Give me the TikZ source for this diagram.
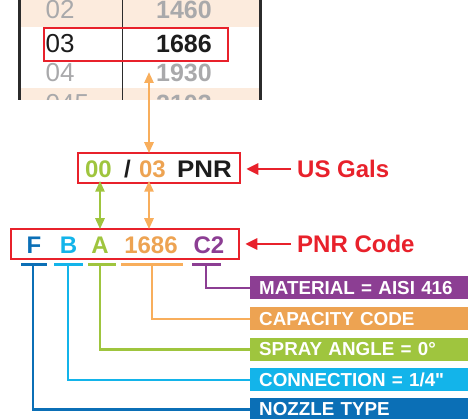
\documentclass[tikz,border=0pt]{standalone}
\usepackage{fontspec}
\defaultfontfeatures{}
\defaultfontfeatures[\rmfamily]{}
\setmainfont{Liberation Sans}
\newfontfamily\qfont{Liberation Sans}
\usetikzlibrary{arrows.meta}
\definecolor{pred}{HTML}{E8212B}
\definecolor{tbeige}{HTML}{FCEBDD}
\definecolor{tline}{HTML}{2B2B2B}
\definecolor{tgray}{HTML}{A9A9AB}
\definecolor{tblack}{HTML}{1C1C1C}
\definecolor{cblue}{HTML}{0B6FB6}
\definecolor{ccyan}{HTML}{13B4EA}
\definecolor{cgreen}{HTML}{9FC53E}
\definecolor{corange}{HTML}{EDA352}
\definecolor{corlight}{HTML}{F8AE5C}
\definecolor{cpurple}{HTML}{8C3E93}
\begin{document}
\begin{tikzpicture}[x=1pt,y=-1pt,
  rowl/.style={font=\fontsize{26}{30}\selectfont, inner sep=0pt, anchor=west},
  rowr/.style={font=\fontsize{25}{30}\selectfont\bfseries, inner sep=0pt, anchor=east},
  big/.style={font=\fontsize{24}{28}\selectfont\bfseries, inner sep=0pt},
  redbox/.style={draw=pred, line width=2.5pt, inner sep=0pt},
  redarrow/.style={draw=pred, line width=2.8pt, -{Triangle[length=12pt,width=11pt]}},
  dblarrow/.style={line width=2.6pt, {Triangle[length=11pt,width=9pt]}-{Triangle[length=11pt,width=9pt]}},
  bar/.style={line width=3pt},
  stem/.style={line width=2.5pt},
  lbl/.style={anchor=west, text=white, font=\fontsize{18.8}{22}\selectfont\bfseries,
    minimum height=23pt, inner ysep=0pt, inner xsep=9pt, text width=200pt, align=left}
]
\useasboundingbox (0,0) rectangle (472,419);

% ---------- table ----------
\begin{scope}
  \clip (0,0) rectangle (472,100);
  \fill[tbeige] (19,-5) rectangle (261,27);
  \fill[tbeige] (19,88) rectangle (261,110);
  \draw[line width=3pt, tline] (19,-5) -- (19,100);
  \draw[line width=3pt, tline] (260.5,-5) -- (260.5,100);
  \draw[line width=1pt, tline] (122,-5) -- (122,100);
  \node[rowl, text=tgray] (t02) at (45.5,10) {02};
  \node[rowr, text=tgray] (t1460) at (212,10) {1460};
  \node[rowl, text=tblack] (t03) at (45.5,43.5) {03};
  \node[rowr, text=tblack] (t1686) at (212,43.5) {1686};
  \node[rowl, text=tgray] (t04) at (45.5,73) {04};
  \node[rowr, text=tgray] (t1930) at (212,73) {1930};
  \node[rowl, text=tgray] (t045) at (45.5,104) {045};
  \node[rowr, text=tgray] (t2103) at (212,104) {2103};
\end{scope}
\node[redbox, minimum width=184pt, minimum height=33pt] (hl) at (136,44.5) {};

% ---------- US Gals box ----------
\node[redbox, minimum width=162pt, minimum height=30pt] (usbox) at (159,168) {};
\node[big, text=cgreen] (n00) at (98.5,169) {00};
\node[big, text=tblack] (nsl) at (127.5,169) {/};
\node[big, text=corange] (n03) at (152.5,169) {03};
\node[big, text=tblack] (npnr) at (204.5,169) {\scalebox{1.08}[1]{PNR}};
\node[big, text=pred, anchor=west] (uslbl) at (297,169) {US Gals};

% ---------- PNR code box ----------
\node[redbox, minimum width=228pt, minimum height=30pt] (pnrbox) at (125,244) {};
\node[big, text=cblue] (pF) at (34,245) {F};
\node[big, text=ccyan] (pB) at (68.5,245) {B};
\node[big, text=cgreen] (pA) at (100,245) {A};
\node[big, text=corange] (p1686) at (151,245) {1686};
\node[big, text=cpurple] (pC2) at (209,245) {C2};
\node[big, text=pred, anchor=west] (pnrlbl) at (297,244) {PNR Code};

% ---------- arrows ----------
\coordinate (ox) at (149,72);
\coordinate (gx) at (100,0);
\draw[dblarrow, corlight] (ox) -- ([yshift=-1.5pt]ox |- usbox.north);
\draw[dblarrow, cgreen] ([yshift=3.5pt]gx |- usbox.south) -- ([yshift=-1.5pt]gx |- pnrbox.north);
\draw[dblarrow, corlight] ([yshift=3.5pt]ox |- usbox.south) -- ([yshift=-1.5pt]ox |- pnrbox.north);
\draw[redarrow] ([xshift=-6pt]uslbl.west) -- ([xshift=5pt]usbox.east |- uslbl.west);
\draw[redarrow] ([xshift=-6pt]pnrlbl.west) -- ([xshift=5pt]pnrbox.east |- pnrlbl.west);

% ---------- labels ----------
\node[lbl, fill=cpurple] (lM) at (250,288) {MATERIAL = AISI 416};
\node[lbl, fill=corange] (lC) at (250,319) {CAPACITY CODE};
\node[lbl, fill=cgreen] (lS) at (250,349.5) {SPRAY ANGLE = 0°};
\node[lbl, fill=ccyan] (lCo) at (250,380) {CONNECTION = 1/4{\qfont\bfseries "}};
\node[lbl, fill=cblue] (lN) at (250,409.5) {NOZZLE TYPE};

% ---------- brackets ----------
\coordinate (sF) at (33,265);
\coordinate (sB) at (68,265);
\coordinate (sA) at (100,265);
\coordinate (sQ) at (152,265);
\coordinate (sC) at (206,265);
\draw[bar, cblue] ([xshift=-12pt]sF) -- ([xshift=14pt]sF);
\draw[bar, ccyan] ([xshift=-14pt]sB) -- ([xshift=15pt]sB);
\draw[bar, cgreen] ([xshift=-12pt]sA) -- ([xshift=16pt]sA);
\draw[bar, corlight] ([xshift=-31pt]sQ) -- ([xshift=31pt]sQ);
\draw[bar, cpurple] ([xshift=-14pt]sC) -- ([xshift=15pt]sC);
\draw[stem, cblue] (sF) |- (lN.west);
\draw[stem, ccyan] (sB) |- (lCo.west);
\draw[stem, cgreen] (sA) |- (lS.west);
\draw[stem, corlight] (sQ) |- (lC.west);
\draw[stem, cpurple] (sC) |- (lM.west);
\end{tikzpicture}
\end{document}
